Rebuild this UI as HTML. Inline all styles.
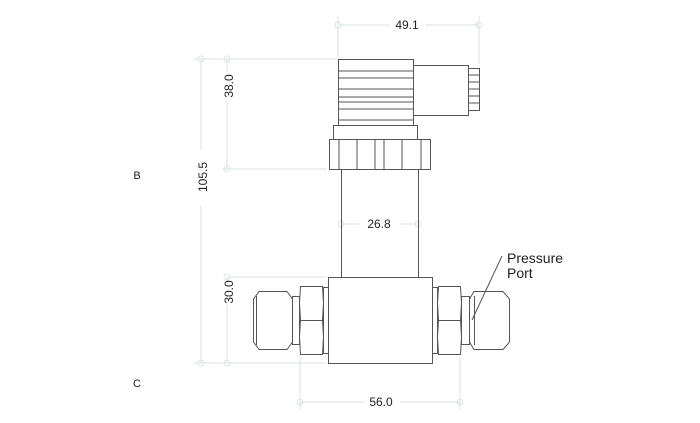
<!DOCTYPE html>
<html><head><meta charset="utf-8"><style>
html,body{margin:0;padding:0;background:#fff;}
svg{display:block;}
text{font-family:"Liberation Sans",sans-serif;fill:#222;}
</style></head><body>
<svg width="700" height="423" viewBox="0 0 700 423" xmlns="http://www.w3.org/2000/svg">
<g stroke="#dde3e3" stroke-width="1" fill="none">
  <!-- top dim -->
  <line x1="338" y1="16" x2="338" y2="58"/>
  <line x1="479" y1="16" x2="479" y2="64"/>
  <line x1="338" y1="25" x2="390" y2="25"/>
  <line x1="425" y1="25" x2="479" y2="25"/>
  <circle cx="338" cy="25" r="3"/><circle cx="479" cy="25" r="3"/>
  <!-- left dims -->
  <line x1="193" y1="59" x2="338" y2="59"/>
  <circle cx="201" cy="59" r="3"/><circle cx="227" cy="59" r="3"/>
  <line x1="201" y1="59" x2="201" y2="150"/>
  <line x1="201" y1="205" x2="201" y2="363"/>
  <line x1="227" y1="59" x2="227" y2="72"/>
  <line x1="227" y1="100" x2="227" y2="169"/>
  <line x1="222" y1="169" x2="327" y2="169"/>
  <circle cx="227" cy="169" r="3"/>
  <line x1="227" y1="277" x2="327" y2="277"/>
  <circle cx="227" cy="277" r="3"/>
  <line x1="227" y1="277" x2="227" y2="282"/>
  <line x1="227" y1="305" x2="227" y2="363"/>
  <line x1="193" y1="363" x2="327" y2="363"/>
  <circle cx="201" cy="363" r="3"/><circle cx="227" cy="363" r="3"/>
  <!-- 26.8 -->
  <line x1="341" y1="224" x2="360" y2="224"/><line x1="400" y1="224" x2="418" y2="224"/>
  <circle cx="341" cy="224" r="3"/><circle cx="418" cy="224" r="3"/>
  <!-- bottom 56.0 -->
  <line x1="300" y1="357" x2="300" y2="410"/>
  <line x1="460" y1="357" x2="460" y2="410"/>
  <line x1="300" y1="402" x2="365" y2="402"/><line x1="400" y1="402" x2="460" y2="402"/>
  <circle cx="300" cy="402" r="3"/><circle cx="460" cy="402" r="3"/>
</g>
<g stroke="#555" stroke-width="1" fill="none">
  <!-- connector -->
  <rect x="338.5" y="59.5" width="75" height="66"/>
  <line x1="338" y1="71" x2="413" y2="71"/><line x1="338" y1="78" x2="413" y2="78"/>
  <line x1="338" y1="89" x2="413" y2="89"/><line x1="338" y1="97" x2="413" y2="97"/>
  <line x1="338" y1="102" x2="413" y2="102"/><line x1="338" y1="109" x2="413" y2="109"/>
  <line x1="338" y1="120" x2="413" y2="120"/>
  <rect x="413.5" y="65.5" width="55" height="50"/>
  <rect x="468.5" y="68.5" width="11" height="42"/>
  <line x1="468" y1="75" x2="480" y2="75"/><line x1="468" y1="82" x2="480" y2="82"/>
  <line x1="468" y1="89" x2="480" y2="89"/><line x1="468" y1="96" x2="480" y2="96"/>
  <line x1="468" y1="103" x2="480" y2="103"/>
  <rect x="333.5" y="125.5" width="84" height="14"/>
  <rect x="329.5" y="139.5" width="101" height="30"/>
  <line x1="339" y1="139" x2="339" y2="169"/><line x1="357" y1="139" x2="357" y2="169"/>
  <line x1="375" y1="139" x2="375" y2="169"/><line x1="384" y1="139" x2="384" y2="169"/>
  <line x1="402" y1="139" x2="402" y2="169"/><line x1="421" y1="139" x2="421" y2="169"/>
  <!-- stem -->
  <line x1="341.5" y1="169" x2="341.5" y2="277"/>
  <line x1="418.5" y1="169" x2="418.5" y2="277"/>
  <!-- body -->
  <rect x="328.5" y="277.5" width="104" height="86"/>
  <!-- left fitting -->
  <rect x="323.5" y="287.5" width="5" height="66"/>
  <path d="M300.5 286.5 L322.5 286.5 L323.5 303 L322.5 320 L323.5 337 L322.5 354.5 L300.5 354.5 L299.5 337 L300.5 320 L299.5 303 Z"/>
  <line x1="300" y1="320.5" x2="323" y2="320.5"/>
  <rect x="292.5" y="296.5" width="7" height="48"/>
  <path d="M259 291.5 L287 291.5 L292.5 299 L292.5 342 L287 349.5 L259 349.5 L253.5 342 L253.5 299 Z"/>
  <line x1="256.5" y1="296" x2="256.5" y2="345"/>
  <!-- right fitting -->
  <rect x="432.5" y="287.5" width="5" height="66"/>
  <path d="M438.5 286.5 L460.5 286.5 L461.5 303 L460.5 320 L461.5 337 L460.5 354.5 L438.5 354.5 L437.5 337 L438.5 320 L437.5 303 Z"/>
  <line x1="438" y1="320.5" x2="461" y2="320.5"/>
  <rect x="461.5" y="296.5" width="8" height="48"/>
  <path d="M474 291.5 L503 291.5 L509.5 299 L509.5 342 L503 349.5 L474 349.5 L469.5 342 L469.5 299 Z"/>
  <line x1="474.5" y1="296" x2="474.5" y2="345"/>
  <line x1="502" y1="256" x2="472" y2="320"/>
</g>
<g font-size="12">
  <text x="407" y="29" text-anchor="middle">49.1</text>
  <text x="379" y="228" text-anchor="middle">26.8</text>
  <text x="381" y="406" text-anchor="middle">56.0</text>
  <text transform="translate(233,86) rotate(-90)" text-anchor="middle">38.0</text>
  <text transform="translate(207,177) rotate(-90)" text-anchor="middle">105.5</text>
  <text transform="translate(233,292) rotate(-90)" text-anchor="middle">30.0</text>
  <text x="137" y="179" text-anchor="middle" font-size="11">B</text>
  <text x="137" y="387" text-anchor="middle" font-size="11">C</text>
</g>
<text x="507" y="263" font-size="14">Pressure</text>
<text x="507" y="278" font-size="14">Port</text>
</svg>
</body></html>
